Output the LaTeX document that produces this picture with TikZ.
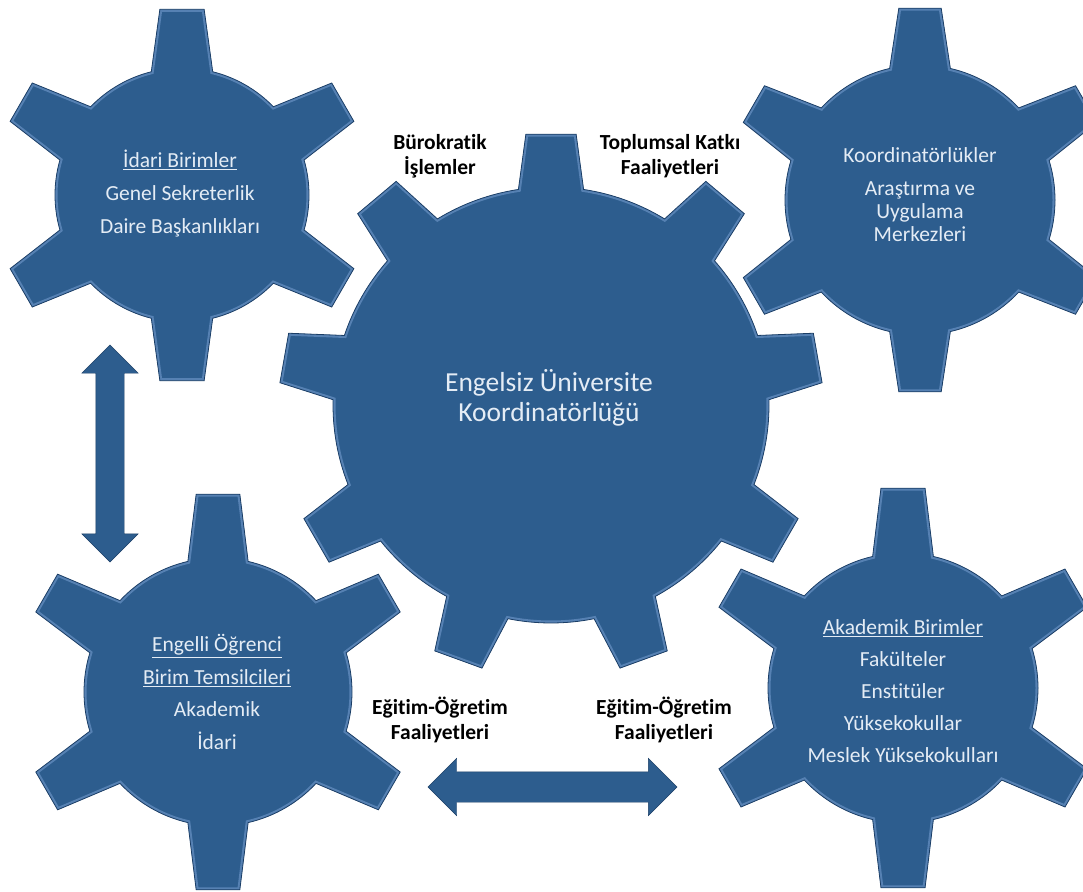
\documentclass[tikz,border=0pt]{standalone}
\usepackage{fontspec}
\setmainfont{Carlito}[Ligatures=NoCommon]
\usetikzlibrary{shapes.arrows,positioning}

\definecolor{gearblue}{RGB}{45,93,142}
\definecolor{gearedge}{RGB}{27,62,102}
\definecolor{gearlight}{RGB}{120,160,210}
\definecolor{geartxt}{RGB}{228,236,245}

% cog outline: teeth, root r, tip r, half angle root, half angle tip, first tooth
\newcommand{\cogpath}[6]{({#6-#4}:#2)
  \foreach \k [evaluate=\k as \a using #6+(\k-1)*360/#1] in {1,...,#1}{
    -- ({\a-#5}:#3) -- ({\a+#5}:#3) -- ({\a+#4}:#2)
    arc[start angle=\a+#4, end angle=\a+360/#1-#4, radius=#2]
  } -- cycle}

% x, y, teeth, root r, tip r, half angle root, half angle tip, first tooth
\newcommand{\drawcog}[8]{%
  \begin{scope}[shift={(#1,#2)}]
    \fill[gearblue] \cogpath{#3}{#4}{#5}{#6}{#7}{#8};
    \begin{scope}
      \clip \cogpath{#3}{#4}{#5}{#6}{#7}{#8};
      \draw[gearlight, line width=5pt, opacity=.55] \cogpath{#3}{#4}{#5}{#6}{#7}{#8};
    \end{scope}
    \draw[gearedge, line width=.8pt] \cogpath{#3}{#4}{#5}{#6}{#7}{#8};
  \end{scope}}

\begin{document}
\begin{tikzpicture}[x=1pt, y=-1pt]
	  \tikzstyle{geartext}=[text=geartxt, align=center, inner sep=0pt]
	  \tikzstyle{label}=[text=black, align=center, inner sep=0pt,
	                     font=\bfseries\fontsize{21.5}{25}\selectfont]
	  \tikzstyle{blockarrow}=[double arrow, fill=gearblue, draw=gearedge,
	                          inner xsep=0pt, double arrow head extend=14pt]

	  \useasboundingbox (0,0) rectangle (1083,891);

	  % gears
	  \drawcog{182}{195}{6}{127}{187}{14}{6.8}{30}
	  \drawcog{920}{200}{6}{135}{193}{13}{6.3}{30}
	  \drawcog{218}{692}{6}{134}{199}{13}{6.3}{30}
	  \drawcog{903}{688}{6}{135}{201}{13}{6.3}{30}
	  \drawcog{551}{405}{9}{218}{272}{8.6}{5.3}{270}

	  % texts in the gears
	  \node[geartext, font=\fontsize{21.5}{33}\selectfont] (idari) at (180,194)
	       {\underline{İdari Birimler}\\ Genel Sekreterlik\\ Daire Başkanlıkları};
	  \node[geartext, font=\fontsize{21.5}{23}\selectfont] (koord) at (920,195)
	       {Koordinatörlükler\\[10pt] Araştırma ve\\ Uygulama\\ Merkezleri};
	  \node[geartext, font=\fontsize{21.5}{32.5}\selectfont] (engelli) at (217,692)
	       {\underline{Engelli Öğrenci}\\ \underline{Birim Temsilcileri}\\ Akademik\\ İdari};
	  \node[geartext, font=\fontsize{21.5}{32}\selectfont] (akademik) at (903,691)
	       {\underline{Akademik Birimler}\\ Fakülteler\\ Enstitüler\\ Yüksekokullar\\ Meslek Yüksekokulları};
	  \node[geartext, font=\fontsize{27.5}{30}\selectfont] (merkez) at (549,398)
	       {Engelsiz Üniversite\\ Koordinatörlüğü};

	  % labels between the gears
	  \node[label] (burokratik) at (440,156) {Bürokratik\\ İşlemler};
	  \node[label] (toplumsal) at (670,156) {Toplumsal Katkı\\ Faaliyetleri};
	  \node[label] (egitimL) at (440,720) {Eğitim-Öğretim\\ Faaliyetleri};
	  \node[label] (egitimR) at (664,720) {Eğitim-Öğretim\\ Faaliyetleri};

	  % arrows
	  \node[blockarrow, rotate=90, inner ysep=14pt, minimum height=217pt] (dikey) at (110,453.5) {};
	  \node[blockarrow, inner ysep=15pt, minimum height=249pt, double arrow head extend=13.5pt] (yatay) at (552.5,787) {};
	\end{tikzpicture}
\end{document}
